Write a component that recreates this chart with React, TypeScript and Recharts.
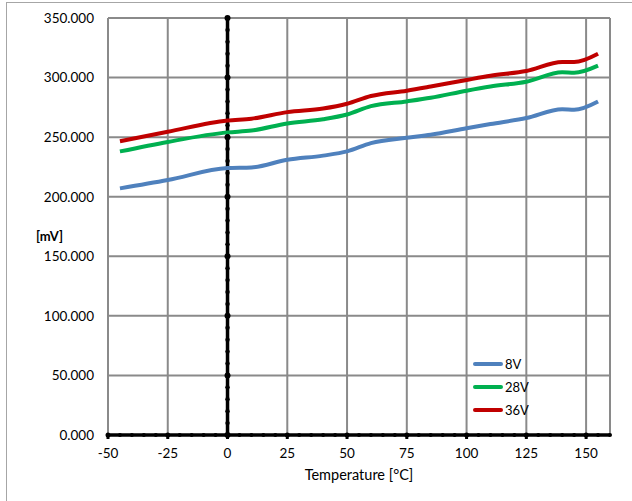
import { LineChart, Line, XAxis, YAxis, CartesianGrid, ReferenceLine, ReferenceDot } from "recharts";

const temps = [-45, -25, 0, 10, 25, 40, 50, 60, 75, 85, 100, 110, 125, 140, 145, 155];
const v8 = [207, 214, 224, 224.5, 231, 234.5, 238, 245, 249.5, 252, 257.5, 261, 266, 273.5, 273, 280];
const v28 = [238, 246, 254, 255.5, 261.5, 265, 269, 276, 280, 283, 289, 292.5, 296.5, 304.5, 304, 310];
const v36 = [246.5, 254.5, 264, 265.5, 271, 274, 278, 284.5, 289, 292.5, 298, 301.5, 305.5, 313, 313, 320];

const xTicks = [-50, -25, 0, 25, 50, 75, 100, 125, 150];
const yTicks = [0, 50, 100, 150, 200, 250, 300, 350];
const xMinor = [-50, -45, -40, -35, -30, -25, -20, -15, -10, -5, 0, 5, 10, 15, 20, 25, 30, 35, 40, 45, 50, 55, 60, 65, 70, 75, 80, 85, 90, 95, 100, 105, 110, 115, 120, 125, 130, 135, 140, 145, 150, 155, 160];
const yMinor = [0, 10, 20, 30, 40, 50, 60, 70, 80, 90, 100, 110, 120, 130, 140, 150, 160, 170, 180, 190, 200, 210, 220, 230, 240, 250, 260, 270, 280, 290, 300, 310, 320, 330, 340, 350];

const series = [
  { key: "v8", name: "8V", color: "#4F81BD" },
  { key: "v28", name: "28V", color: "#00B050" },
  { key: "v36", name: "36V", color: "#C00000" },
];

const data = temps.map((t, i) => ({ t, v8: v8[i], v28: v28[i], v36: v36[i] }));

const FONT = "Lato, 'Open Sans', sans-serif";
const TICK = { fontSize: 13.5, fill: "#000", fontFamily: FONT };

export default function App() {
  return (
    <div style={{ position: "absolute", left: 0, top: 0, width: 632, height: 501, background: "#fff", overflow: "hidden" }}>
      <div style={{ position: "absolute", left: 6, top: 2, width: 640, height: 520, border: "1px solid #a6a6a6" }} />
      <div style={{ position: "absolute", left: 36, top: 228, fontFamily: FONT, fontSize: 13, fontWeight: "bold" }}>[mV]</div>
      <div style={{ position: "absolute", left: 0, top: 0 }}>
        <LineChart width={632} height={501} data={data} margin={{ top: 18, right: 22, bottom: 36, left: 48 }}>
          <CartesianGrid stroke="#8a8a8a" strokeWidth={2} />
          <XAxis
            dataKey="t"
            type="number"
            domain={[-50, 160]}
            ticks={xTicks}
            allowDataOverflow
            interval={0}
            tick={TICK}
            tickLine={{ stroke: "#000", strokeWidth: 3 }}
            tickSize={4}
            tickMargin={9}
            axisLine={{ stroke: "#000", strokeWidth: 3.5 }}
            height={30}
            label={{ value: "Temperature [°C]", position: "bottom", offset: 5, style: { fontSize: 14.5, fill: "#000", fontFamily: FONT } }}
          />
          <YAxis
            type="number"
            domain={[0, 350]}
            ticks={yTicks}
            interval={0}
            width={60}
            tick={TICK}
            tickFormatter={(v: number) => v.toFixed(3)}
            tickLine={false}
            tickSize={0}
            tickMargin={14}
            axisLine={false}
          />
          <ReferenceLine x={0} stroke="#000" strokeWidth={3.5} />
          {xMinor.map((x) => (
            <ReferenceDot key={"x" + x} x={x} y={0} r={x % 25 === 0 ? 2.5 : 2} fill="#000" stroke="none" ifOverflow="visible" />
          ))}
          {yMinor.map((y) => (
            <ReferenceDot key={"y" + y} x={0} y={y} r={y % 50 === 0 ? 3 : 2.2} fill="#000" stroke="none" ifOverflow="visible" />
          ))}
          {series.map((s) => (
            <Line key={s.key} type="monotone" dataKey={s.key} name={s.name} stroke={s.color} strokeWidth={4} dot={false} isAnimationActive={false} />
          ))}
        </LineChart>
      </div>
      <div style={{ position: "absolute", left: 473, top: 352, fontFamily: FONT, fontSize: 13, color: "#000" }}>
        {series.map((s) => (
          <div key={s.key} style={{ display: "flex", alignItems: "center", height: 23 }}>
            <div style={{ width: 30, height: 4, borderRadius: 2, background: s.color, marginRight: 2 }} />
            <span>{s.name}</span>
          </div>
        ))}
      </div>
    </div>
  );
}
